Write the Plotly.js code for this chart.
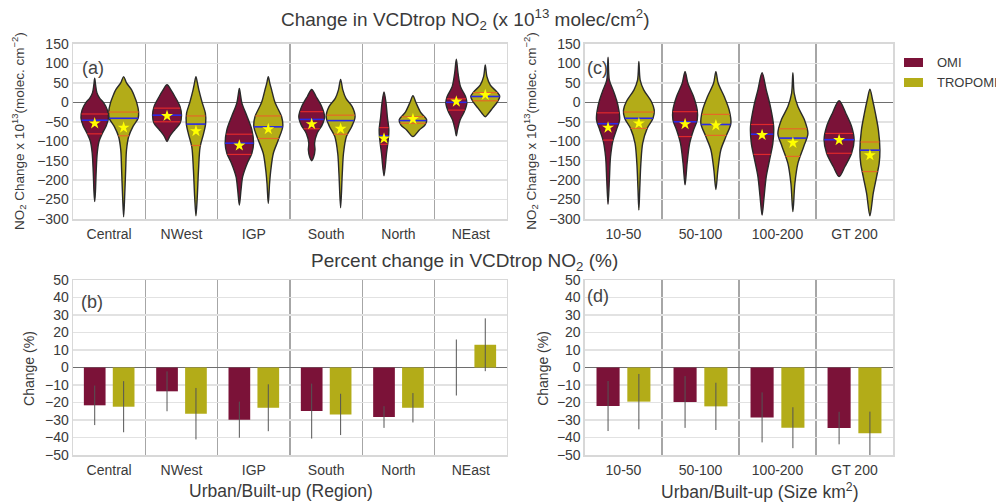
<!DOCTYPE html>
<html><head><meta charset="utf-8">
<script src="https://cdn.plot.ly/plotly-3.0.1.min.js"></script>
<style>html,body{margin:0;padding:0;background:#fff}#chart{width:996px;height:502px}</style>
</head><body><div id="chart"></div>
<script>
// ---------- categories ----------
const regions = ['Central', 'NWest', 'IGP', 'South', 'North', 'NEast'];
const sizes = ['10-50', '50-100', '100-200', 'GT 200'];

// ---------- violin density profiles: [value, half-width] ----------
const omiRegionProfiles = [
  [[62,0],[45,0.012],[25,0.03],[10,0.07],[0,0.12],[-20,0.175],[-40,0.19],[-60,0.16],[-80,0.105],[-100,0.06],[-130,0.035],[-180,0.02],[-230,0.01],[-255,0]],
  [[45,0],[30,0.06],[15,0.108],[-11,0.18],[-33,0.2],[-54,0.18],[-71,0.104],[-88,0.035],[-101,0]],
  [[36,0],[20,0.015],[-2,0.035],[-37,0.108],[-71,0.173],[-105,0.196],[-131,0.173],[-157,0.108],[-191,0.046],[-225,0.023],[-264,0]],
  [[33,0],[15,0.06],[-11,0.138],[-37,0.178],[-58,0.145],[-80,0.074],[-105,0.04],[-122,0.046],[-140,0.028],[-150,0]],
  [[27,0],[-2,0.028],[-37,0.046],[-71,0.067],[-97,0.058],[-131,0.035],[-189,0]],
  [[111,0],[75,0.023],[40,0.058],[15,0.127],[-2,0.145],[-25,0.108],[-45,0.053],[-71,0.016],[-86,0]]
];
const tropomiRegionProfiles = [
  [[66,0],[50,0.04],[32,0.11],[15,0.15],[0,0.18],[-25,0.207],[-41,0.2],[-62,0.13],[-88,0.07],[-122,0.04],[-174,0.028],[-243,0.014],[-294,0]],
  [[66,0],[50,0.02],[32,0.04],[0,0.085],[-28,0.13],[-54,0.134],[-80,0.106],[-114,0.058],[-174,0.035],[-243,0.018],[-292,0]],
  [[66,0],[50,0.02],[32,0.046],[0,0.092],[-37,0.184],[-62,0.2],[-97,0.138],[-131,0.07],[-174,0.035],[-208,0.018],[-260,0]],
  [[59,0],[32,0.03],[10,0.074],[-11,0.16],[-37,0.2],[-62,0.154],[-88,0.08],[-131,0.04],[-183,0.023],[-271,0]],
  [[17,0],[0,0.04],[-25,0.104],[-45,0.19],[-58,0.168],[-71,0.088],[-88,0]],
  [[96,0],[66,0.023],[44,0.07],[27,0.16],[15,0.2],[2,0.17],[-15,0.1],[-28,0.046],[-37,0]]
];
const omiSizeProfiles = [
  [[116,0],[57,0.017],[32,0.065],[6,0.11],[-20,0.14],[-45,0.15],[-71,0.108],[-97,0.065],[-140,0.032],[-200,0.017],[-262,0]],
  [[79,0],[49,0.037],[15,0.11],[-20,0.158],[-45,0.158],[-71,0.11],[-105,0.06],[-157,0.026],[-212,0]],
  [[76,0],[32,0.054],[-11,0.108],[-62,0.15],[-105,0.14],[-148,0.097],[-191,0.054],[-243,0.026],[-290,0]],
  [[4,0],[-28,0.087],[-62,0.162],[-97,0.195],[-131,0.162],[-165,0.076],[-191,0]]
];
const tropomiSizeProfiles = [
  [[105,0],[57,0.017],[32,0.063],[2,0.162],[-20,0.2],[-41,0.184],[-67,0.108],[-105,0.05],[-157,0.026],[-220,0.012],[-277,0]],
  [[79,0],[49,0.03],[15,0.108],[-20,0.173],[-54,0.195],[-88,0.13],[-122,0.065],[-174,0.026],[-224,0]],
  [[76,0],[23,0.017],[-11,0.065],[-45,0.15],[-80,0.195],[-114,0.14],[-157,0.065],[-208,0.026],[-281,0]],
  [[34,0],[6,0.035],[-28,0.071],[-71,0.11],[-123,0.13],[-157,0.12],[-191,0.087],[-234,0.043],[-292,0]]
];

// ---------- violin summary lines ----------
const omiRegionQ1 = [-30, -15, -82, -24, -65, 9];
const omiRegionQ3 = [-81, -50, -134, -68, -108, -20];
const omiRegionMedian = [-46, -33, -105, -44, -86, 0];
const omiRegionMean = [-54, -35, -111, -56, -93, 2];
const tropomiRegionQ1 = [-25, -35, -35, -33, -37, 25];
const tropomiRegionQ3 = [-86, -111, -93, -82, -54, 4];
const tropomiRegionMedian = [-41, -56, -63, -47, -47, 15];
const tropomiRegionMean = [-65, -74, -69, -68, -43, 19];

const omiSizeQ1 = [-27, -24, -57, -80];
const omiSizeQ3 = [-97, -88, -134, -131];
const omiSizeMedian = [-55, -50, -82, -96];
const omiSizeMean = [-65, -56, -84, -97];
const tropomiSizeQ1 = [-25, -31, -68, -102];
const tropomiSizeQ3 = [-67, -85, -139, -178];
const tropomiSizeMedian = [-41, -57, -92, -123];
const tropomiSizeMean = [-54, -59, -104, -136];

// ---------- percent change bars ----------
const omiRegionPct = [-21.6, -13.6, -29.8, -24.9, -28.3, 0];
const omiRegionErr = [11.3, 11.4, 10.3, 15.7, 6.2, 16];
const tropomiRegionPct = [-22.4, -26.4, -23, -26.8, -23, 13];
const tropomiRegionErr = [14.6, 14.7, 13.4, 11.8, 8.4, 15.1];
const omiSizePct = [-22, -19.7, -28.5, -34.6];
const omiSizeErr = [14.3, 14.8, 14.3, 9.3];
const tropomiSizePct = [-19.5, -22.2, -34.4, -37.6];
const tropomiSizeErr = [15.8, 13.5, 11.7, 12.4];

// ---------- styles ----------
const OMI = '#7b1238';
const TRO = '#b3ac18';
const FONT = 'Liberation Sans, Arial, Helvetica, sans-serif';
const TXT = '#3a3a3a';

function hwAt(p, v) {
  for (let i = 0; i < p.length - 1; i++) {
    const a = p[i], b = p[i + 1];
    if (v <= a[0] && v >= b[0]) {
      const t = (a[0] - v) / (a[0] - b[0]);
      return a[1] + t * (b[1] - a[1]);
    }
  }
  return 0;
}

const traces = [];

function addViolins(profiles, offset, color, xa, ya) {
  profiles.forEach((p, i) => {
    const c = i + offset;
    const xs = [], ys = [];
    p.forEach(pt => { xs.push(c + pt[1]); ys.push(pt[0]); });
    for (let k = p.length - 2; k >= 0; k--) { xs.push(c - p[k][1]); ys.push(p[k][0]); }
    traces.push({type: 'scatter', mode: 'lines', x: xs, y: ys, xaxis: xa, yaxis: ya,
      fill: 'toself', fillcolor: color, line: {color: '#2a2a2a', width: 1.4, shape: 'spline', smoothing: 0.9},
      hoverinfo: 'skip', showlegend: false});
  });
}

function addLines(values, profiles, offset, color, width, xa, ya) {
  const xs = [], ys = [];
  values.forEach((v, i) => {
    const c = i + offset, hw = hwAt(profiles[i], v);
    xs.push(c - hw, c + hw, null); ys.push(v, v, null);
  });
  traces.push({type: 'scatter', mode: 'lines', x: xs, y: ys, xaxis: xa, yaxis: ya,
    line: {color: color, width: width}, hoverinfo: 'skip', showlegend: false});
}

function addStars(values, offset, xa, ya) {
  traces.push({type: 'scatter', mode: 'markers', x: values.map((v, i) => i + offset), y: values,
    xaxis: xa, yaxis: ya, marker: {symbol: 'star', size: 9, color: '#ffff00', line: {width: 0}},
    hoverinfo: 'skip', showlegend: false});
}

function violinPanel(omiP, troP, oq1, oq3, omed, omean, tq1, tq3, tmed, tmean, xa, ya) {
  addViolins(omiP, -0.2, OMI, xa, ya);
  addViolins(troP, 0.2, TRO, xa, ya);
  addLines(oq1, omiP, -0.2, '#e0282c', 1.2, xa, ya);
  addLines(oq3, omiP, -0.2, '#e0282c', 1.2, xa, ya);
  addLines(tq1, troP, 0.2, '#e46a26', 1.2, xa, ya);
  addLines(tq3, troP, 0.2, '#e46a26', 1.2, xa, ya);
  addLines(omed, omiP, -0.2, '#2a2ae6', 1.6, xa, ya);
  addLines(tmed, troP, 0.2, '#2a2ae6', 1.6, xa, ya);
  addStars(omean, -0.2, xa, ya);
  addStars(tmean, 0.2, xa, ya);
}

violinPanel(omiRegionProfiles, tropomiRegionProfiles, omiRegionQ1, omiRegionQ3, omiRegionMedian, omiRegionMean,
  tropomiRegionQ1, tropomiRegionQ3, tropomiRegionMedian, tropomiRegionMean, 'x', 'y');
violinPanel(omiSizeProfiles, tropomiSizeProfiles, omiSizeQ1, omiSizeQ3, omiSizeMedian, omiSizeMean,
  tropomiSizeQ1, tropomiSizeQ3, tropomiSizeMedian, tropomiSizeMean, 'x3', 'y3');

function addBars(vals, errs, color, offset, xa, ya) {
  traces.push({type: 'bar', x: vals.map((v, i) => i), y: vals, xaxis: xa, yaxis: ya,
    width: 0.3, offset: offset, marker: {color: color, line: {width: 0}},
    error_y: {type: 'data', array: errs, visible: true, color: '#555', thickness: 1, width: 0},
    hoverinfo: 'skip', showlegend: false});
}
addBars(omiRegionPct, omiRegionErr, OMI, -0.35, 'x2', 'y2');
addBars(tropomiRegionPct, tropomiRegionErr, TRO, 0.05, 'x2', 'y2');
addBars(omiSizePct, omiSizeErr, OMI, -0.35, 'x4', 'y4');
addBars(tropomiSizePct, tropomiSizeErr, TRO, 0.05, 'x4', 'y4');

function xAxis(cats, dom) {
  return {domain: dom, range: [-0.5, cats.length - 0.5], tickmode: 'array',
    tickvals: cats.map((c, i) => i), ticktext: cats, showgrid: false, zeroline: false,
    ticks: '', tickfont: {size: 14, color: TXT, family: FONT}, ticklabelstandoff: 2,
    minor: {tick0: 0.5, dtick: 1, showgrid: true, gridcolor: '#a6a6a6', gridwidth: 1.5, ticks: ''},
    showline: true, mirror: true, linecolor: '#d8d8d8', linewidth: 1.5, fixedrange: true};
}
function yAxis(dom, rng, dt, anchor) {
  return {domain: dom, range: rng, dtick: dt, tick0: 0, showgrid: true, gridcolor: '#e2e2e2', gridwidth: 1.5,
    zeroline: true, zerolinecolor: '#6e6e6e', zerolinewidth: 1.3, ticks: '',
    tickfont: {size: 14, color: TXT, family: FONT}, anchor: anchor,
    showline: true, mirror: true, linecolor: '#d8d8d8', linewidth: 1.5, fixedrange: true};
}

const dxL = [0.0733, 0.509], dxR = [0.5873, 0.8966];
const dyT = [0.5637, 0.9124], dyB = [0.0936, 0.4422];

const ann = (text, x, y, opts) => Object.assign({text: text, x: x, y: y, xref: 'paper', yref: 'paper',
  xanchor: 'center', yanchor: 'middle',
  showarrow: false, font: {family: FONT, size: 19, color: TXT}}, opts || {});

const layout = {
  width: 996, height: 502, margin: {l: 0, r: 0, t: 0, b: 0},
  paper_bgcolor: '#fff', plot_bgcolor: '#fff', showlegend: false,
  font: {family: FONT, color: TXT},
  xaxis: Object.assign(xAxis(regions, dxL), {anchor: 'y'}),
  yaxis: yAxis(dyT, [-300, 150], 50, 'x'),
  xaxis2: Object.assign(xAxis(regions, dxL), {anchor: 'y2'}),
  yaxis2: yAxis(dyB, [-50, 50], 10, 'x2'),
  xaxis3: Object.assign(xAxis(sizes, dxR), {anchor: 'y3'}),
  yaxis3: yAxis(dyT, [-300, 150], 50, 'x3'),
  xaxis4: Object.assign(xAxis(sizes, dxR), {anchor: 'y4'}),
  yaxis4: yAxis(dyB, [-50, 50], 10, 'x4'),
  annotations: [
    ann('Change in VCDtrop NO<sub>2</sub> (x 10<sup>13</sup> molec/cm<sup>2</sup>)', 0.467, 1 - 20 / 502),
    ann('Percent change in VCDtrop NO<sub>2</sub> (%)', 0.466, 1 - 262 / 502),
    ann('Urban/Built-up (Region)', 0.282, 1 - 491 / 502, {font: {family: FONT, size: 17.5, color: TXT}}),
    ann('Urban/Built-up (Size km<sup>2</sup>)', 0.763, 1 - 491 / 502, {font: {family: FONT, size: 17.5, color: TXT}}),
    ann('NO<sub>2</sub> Change x 10<sup>13</sup>(molec. cm<sup>\u22122</sup>)', 0.019, 1 - 131 / 502, {textangle: -90, font: {family: FONT, size: 13.5, color: TXT}}),
    ann('NO<sub>2</sub> Change x 10<sup>13</sup>(molec. cm<sup>\u22122</sup>)', 0.533, 1 - 131 / 502, {textangle: -90, font: {family: FONT, size: 13.5, color: TXT}}),
    ann('Change (%)', 0.029, 1 - 368 / 502, {textangle: -90, font: {family: FONT, size: 14, color: TXT}}),
    ann('Change (%)', 0.545, 1 - 368 / 502, {textangle: -90, font: {family: FONT, size: 14, color: TXT}}),
    {text: '(a)', xref: 'x domain', yref: 'y domain', x: 0.016, y: 0.865, xanchor: 'left', yanchor: 'middle', showarrow: false, font: {family: FONT, size: 18, color: '#444'}},
    {text: '(b)', xref: 'x2 domain', yref: 'y2 domain', x: 0.014, y: 0.876, xanchor: 'left', yanchor: 'middle', showarrow: false, font: {family: FONT, size: 18, color: '#444'}},
    {text: '(c)', xref: 'x3 domain', yref: 'y3 domain', x: 0.0, y: 0.865, xanchor: 'left', yanchor: 'middle', showarrow: false, font: {family: FONT, size: 18, color: '#444'}},
    {text: '(d)', xref: 'x4 domain', yref: 'y4 domain', x: 0.0, y: 0.91, xanchor: 'left', yanchor: 'middle', showarrow: false, font: {family: FONT, size: 18, color: '#444'}},
    ann('OMI', 0.9387, 1 - 62.5 / 502, {xanchor: 'left', font: {family: FONT, size: 13, color: TXT}}),
    ann('TROPOMI', 0.9387, 1 - 82.5 / 502, {xanchor: 'left', font: {family: FONT, size: 13, color: TXT}})
  ],
  shapes: [
    {type: 'rect', xref: 'paper', yref: 'paper', x0: 904 / 996, x1: 923 / 996, y0: 1 - 67 / 502, y1: 1 - 58 / 502, fillcolor: OMI, line: {width: 0}},
    {type: 'rect', xref: 'paper', yref: 'paper', x0: 904 / 996, x1: 923 / 996, y0: 1 - 87 / 502, y1: 1 - 78 / 502, fillcolor: TRO, line: {width: 0}}
  ]
};

Plotly.newPlot('chart', traces, layout, {staticPlot: true, displayModeBar: false});
</script>
</body></html>
